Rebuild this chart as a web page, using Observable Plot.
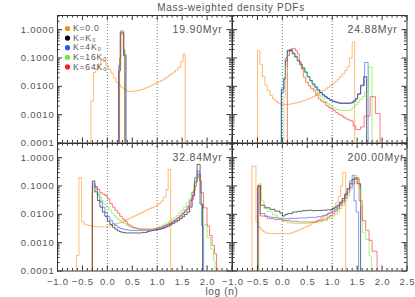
<!DOCTYPE html>
<html><head><meta charset="utf-8">
<script src="https://cdn.jsdelivr.net/npm/d3@7"></script>
<script src="https://cdn.jsdelivr.net/npm/@observablehq/plot@0.6"></script>
<style>
html,body{margin:0;padding:0;background:#fff;}
#chart{position:relative;width:415px;height:297px;overflow:hidden;font-family:"Liberation Sans",Arial,sans-serif;}
#chart svg{position:absolute;overflow:visible;}
#chart svg text{letter-spacing:0.8px;font-family:"Liberation Sans","DejaVu Sans",sans-serif;}
.lbl{position:absolute;color:#555;font-size:10px;letter-spacing:0.7px;white-space:nowrap;transform:translate(-50%,-50%);}
</style></head><body><div id="chart"></div>
<script>
// ---- data: mass-weighted density PDFs, [log n bin left edge, PDF]; last entry = right edge of last bin ----
const seriesNames = ["K=0.0", "K=K\u2080", "K=4K\u2080", "K=16K\u2080", "K=64K\u2080"];
const seriesColors = ["#ff8c1a", "#000000", "#1e5aff", "#6cee2a", "#ff2020"];
const panelTimes = ["19.90Myr", "24.88Myr", "32.84Myr", "200.00Myr"];

// 19.90 Myr
const tl_k0 = [[-0.33,0.003],[-0.28,0.031],[-0.23,0.04],[-0.18,0.062],[-0.13,0.085],[-0.08,0.075],[-0.03,0.055],[0.02,0.04],[0.07,0.029],[0.12,0.02],[0.17,0.014],[0.22,0.011],[0.27,0.0092],[0.32,0.008],[0.37,0.007],[0.42,0.0066],[0.47,0.0066],[0.52,0.0068],[0.57,0.0071],[0.62,0.0073],[0.67,0.0077],[0.72,0.0083],[0.77,0.009],[0.82,0.0098],[0.87,0.0108],[0.92,0.012],[0.97,0.0132],[1.02,0.0145],[1.07,0.016],[1.12,0.018],[1.17,0.021],[1.22,0.024],[1.27,0.028],[1.32,0.032],[1.37,0.038],[1.42,0.047],[1.47,0.075],[1.52,0.14],[1.56,0]];
const tl_k1 = [[0.227,0.035],[0.26,0.78],[0.327,0.12],[0.36,0]];
const tl_k2 = [[0.227,0.055],[0.26,0.9],[0.327,0.13],[0.38,0]];
const tl_k3 = [[0.24,0.05],[0.273,0.85],[0.333,0.2],[0.36,0]];
const tl_k4 = [[0.245,0.1],[0.267,0.72],[0.32,0.2],[0.345,0]];

// 24.88 Myr
const tr_k0 = [[-0.5,0.18],[-0.45,0.06],[-0.4,0.022],[-0.35,0.011],[-0.3,0.0072],[-0.25,0.0048],[-0.2,0.0036],[-0.15,0.003],[-0.1,0.0026],[-0.05,0.0024],[0,0.0023],[0.15,0.0024],[0.2,0.0025],[0.25,0.0026],[0.3,0.0027],[0.35,0.0029],[0.4,0.0031],[0.45,0.0033],[0.5,0.0036],[0.55,0.0039],[0.6,0.0043],[0.65,0.0048],[0.7,0.0055],[0.75,0.0062],[0.8,0.007],[0.85,0.008],[0.9,0.0092],[0.95,0.011],[1.0,0.0125],[1.05,0.015],[1.1,0.018],[1.15,0.022],[1.2,0.028],[1.25,0.036],[1.3,0.05],[1.35,0.1],[1.4,0.36],[1.45,0]];
const tr_k1 = [[-0.02,0.008],[0.03,0.018],[0.06,0.08],[0.1,0.18],[0.15,0.19],[0.2,0.14],[0.25,0.11],[0.3,0.08],[0.35,0.06],[0.4,0.045],[0.45,0.032],[0.5,0.022],[0.55,0.016],[0.6,0.012],[0.65,0.0095],[0.7,0.0075],[0.75,0.006],[0.8,0.005],[0.85,0.0042],[0.9,0.0037],[0.95,0.0032],[1.0,0.003],[1.05,0.0028],[1.1,0.0026],[1.15,0.0025],[1.37,0.0026],[1.42,0.003],[1.47,0.0036],[1.51,0.0053],[1.57,0.0105],[1.63,0.022],[1.69,0]];
const tr_k2 = [[-0.02,0.006],[0.03,0.02],[0.06,0.1],[0.1,0.19],[0.15,0.2],[0.2,0.15],[0.25,0.11],[0.3,0.08],[0.35,0.058],[0.4,0.043],[0.45,0.031],[0.5,0.022],[0.55,0.016],[0.6,0.012],[0.65,0.0093],[0.7,0.0074],[0.75,0.006],[0.8,0.005],[0.85,0.0043],[0.9,0.0037],[0.95,0.0033],[1.0,0.003],[1.05,0.0028],[1.1,0.0027],[1.15,0.0026],[1.37,0.0027],[1.42,0.0031],[1.47,0.0038],[1.51,0.0055],[1.57,0.011],[1.65,0.07],[1.72,0]];
const tr_k3 = [[0.03,0.004],[0.06,0.05],[0.1,0.13],[0.15,0.17],[0.2,0.16],[0.25,0.12],[0.3,0.085],[0.35,0.06],[0.4,0.042],[0.45,0.03],[0.5,0.021],[0.55,0.015],[0.6,0.0105],[0.65,0.0078],[0.7,0.0058],[0.75,0.0045],[0.8,0.0036],[0.85,0.0029],[0.9,0.0024],[0.95,0.002],[1.0,0.0018],[1.05,0.0016],[1.1,0.0015],[1.15,0.0014],[1.35,0.0015],[1.4,0.0018],[1.45,0.0022],[1.5,0.0027],[1.55,0.0034],[1.6,0.0043],[1.65,0.0063],[1.73,0.047],[1.8,0]];
const tr_k4 = [[0.1,0.12],[0.14,0.18],[0.18,0.21],[0.22,0.22],[0.26,0.18],[0.3,0.14],[0.34,0.07],[0.38,0.041],[0.42,0.021],[0.47,0.014],[0.52,0.0105],[0.57,0.0085],[0.62,0.007],[0.67,0.005],[0.72,0.0036],[0.77,0.003],[0.82,0.0027],[0.87,0.0021],[0.92,0.0018],[0.97,0.0016],[1.02,0.0014],[1.07,0.0012],[1.12,0.001],[1.17,0.00092],[1.22,0.0008],[1.27,0.0007],[1.32,0.00065],[1.37,0.0006],[1.42,0.0004],[1.47,0.0003],[1.57,0.00037],[1.64,0.0009],[1.76,0.0043],[1.87,0.0011],[1.96,0]];

// 32.84 Myr
const bl_k0 = [[-0.62,0.00035],[-0.57,0.2],[-0.52,0.0055],[-0.47,0.0045],[-0.42,0.0042],[-0.37,0.004],[-0.32,0.0038],[-0.27,0.0037],[-0.22,0.0036],[-0.02,0.0037],[0.03,0.0039],[0.08,0.0041],[0.13,0.0044],[0.18,0.0047],[0.23,0.0051],[0.28,0.0055],[0.33,0.006],[0.38,0.0066],[0.43,0.0073],[0.48,0.008],[0.53,0.0088],[0.58,0.0097],[0.63,0.0107],[0.68,0.0118],[0.73,0.013],[0.78,0.0143],[0.83,0.0157],[0.88,0.0172],[0.93,0.019],[0.98,0.021],[1.03,0.0245],[1.08,0.03],[1.13,0.04],[1.18,0.075],[1.22,0.39],[1.27,0]];
const bl_k1 = [[-0.3,0.15],[-0.25,0.062],[-0.2,0.031],[-0.15,0.018],[-0.1,0.012],[-0.05,0.0085],[0,0.0058],[0.05,0.0044],[0.1,0.0035],[0.15,0.003],[0.2,0.0026],[0.25,0.0024],[0.3,0.0023],[0.35,0.0022],[0.7,0.0023],[0.8,0.0025],[0.85,0.0026],[0.9,0.0027],[0.95,0.0028],[1.0,0.0029],[1.05,0.003],[1.1,0.0032],[1.15,0.0035],[1.2,0.0038],[1.25,0.0043],[1.3,0.0048],[1.35,0.0054],[1.4,0.006],[1.45,0.007],[1.5,0.0082],[1.55,0.0098],[1.6,0.012],[1.65,0.018],[1.7,0.045],[1.75,0.14],[1.8,0.58],[1.86,0.023],[1.91,0]];
const bl_k2 = [[-0.3,0.12],[-0.25,0.09],[-0.2,0.05],[-0.15,0.028],[-0.1,0.018],[-0.05,0.012],[0,0.0085],[0.05,0.0062],[0.1,0.0048],[0.15,0.004],[0.2,0.0035],[0.25,0.0032],[0.3,0.003],[0.35,0.0029],[0.4,0.0028],[0.45,0.0027],[0.95,0.0029],[1.0,0.003],[1.05,0.0032],[1.1,0.0035],[1.15,0.0039],[1.2,0.0043],[1.25,0.0048],[1.3,0.0055],[1.35,0.0064],[1.4,0.0075],[1.45,0.009],[1.5,0.011],[1.55,0.014],[1.6,0.019],[1.65,0.03],[1.7,0.06],[1.75,0.2],[1.8,0.34],[1.85,0.15],[1.89,0.004],[1.93,0]];
const bl_k3 = [[-0.31,0.06],[-0.27,0.09],[-0.22,0.06],[-0.17,0.04],[-0.12,0.03],[-0.07,0.023],[-0.02,0.018],[0.03,0.014],[0.08,0.011],[0.13,0.0088],[0.18,0.0072],[0.23,0.006],[0.28,0.0052],[0.33,0.0047],[0.38,0.0041],[0.43,0.0037],[0.48,0.0034],[0.53,0.0032],[0.58,0.0031],[0.63,0.003],[0.93,0.0032],[0.98,0.0034],[1.03,0.0037],[1.08,0.004],[1.13,0.0045],[1.18,0.005],[1.23,0.0058],[1.28,0.0066],[1.33,0.0077],[1.38,0.009],[1.43,0.011],[1.48,0.014],[1.53,0.018],[1.58,0.025],[1.63,0.035],[1.68,0.06],[1.73,0.12],[1.78,0.22],[1.82,0.18],[1.87,0.023],[1.93,0.0044],[2.0,0.0015],[2.07,0.0006],[2.13,0.00023],[2.16,0]];
const bl_k4 = [[-0.3,0.1],[-0.25,0.095],[-0.2,0.075],[-0.15,0.058],[-0.1,0.052],[-0.05,0.046],[0,0.035],[0.05,0.024],[0.1,0.018],[0.15,0.014],[0.2,0.011],[0.25,0.0085],[0.3,0.0068],[0.35,0.0055],[0.4,0.0045],[0.45,0.0039],[0.5,0.0035],[0.55,0.0033],[0.6,0.0031],[0.65,0.003],[0.93,0.0031],[0.98,0.0032],[1.03,0.0034],[1.08,0.0036],[1.13,0.0039],[1.18,0.0043],[1.23,0.0048],[1.28,0.0054],[1.33,0.006],[1.38,0.007],[1.43,0.008],[1.48,0.0095],[1.53,0.012],[1.58,0.015],[1.63,0.021],[1.68,0.034],[1.73,0.07],[1.76,0.1],[1.79,0.2],[1.82,0.26],[1.87,0.058],[1.93,0.017],[2.0,0.0039],[2.05,0.0018],[2.1,0.0008],[2.15,0.0004],[2.19,0]];

// 200.00 Myr
const br_k0 = [[-0.61,0.5],[-0.53,0.0055],[-0.48,0.0035],[-0.43,0.0028],[-0.38,0.0024],[-0.33,0.0022],[-0.28,0.0021],[0.17,0.0022],[0.22,0.0024],[0.27,0.0026],[0.32,0.0028],[0.37,0.0031],[0.42,0.0034],[0.47,0.0037],[0.52,0.0041],[0.57,0.0046],[0.62,0.0052],[0.67,0.0058],[0.72,0.0066],[0.77,0.0075],[0.82,0.0085],[0.87,0.0098],[0.92,0.0115],[0.97,0.014],[1.02,0.018],[1.07,0.025],[1.12,0.042],[1.17,0.1],[1.21,0.3],[1.27,0]];
const br_k1 = [[-0.49,0.105],[-0.44,0.021],[-0.35,0.017],[-0.25,0.015],[-0.15,0.013],[-0.05,0.011],[0,0.0087],[0.05,0.0098],[0.1,0.0106],[0.2,0.012],[0.3,0.0128],[0.4,0.0135],[0.5,0.0139],[0.6,0.0135],[0.7,0.0137],[0.8,0.014],[0.9,0.0145],[1.0,0.016],[1.05,0.018],[1.1,0.021],[1.15,0.027],[1.2,0.036],[1.25,0.052],[1.3,0.08],[1.35,0.12],[1.4,0.17],[1.45,0.18],[1.5,0.12],[1.57,0]];
const br_k2 = [[-0.5,0.09],[-0.45,0.0106],[-0.35,0.0085],[-0.25,0.0078],[-0.1,0.0072],[0,0.007],[0.15,0.0072],[0.3,0.0074],[0.5,0.0078],[0.7,0.0083],[0.8,0.0092],[0.9,0.0106],[0.95,0.0115],[1.0,0.0128],[1.05,0.015],[1.1,0.018],[1.15,0.024],[1.2,0.031],[1.25,0.048],[1.3,0.08],[1.35,0.15],[1.4,0.24],[1.44,0.03],[1.48,0.012],[1.53,0]];
const br_k3 = [[-0.47,0.12],[-0.42,0.03],[-0.37,0.016],[-0.3,0.0125],[-0.2,0.0095],[-0.1,0.0075],[0,0.0057],[0.1,0.005],[0.2,0.0048],[0.3,0.0047],[0.4,0.0048],[0.5,0.0049],[0.6,0.0052],[0.7,0.0054],[0.8,0.006],[0.9,0.007],[0.95,0.0078],[1.0,0.0087],[1.05,0.01],[1.1,0.012],[1.15,0.016],[1.2,0.021],[1.25,0.03],[1.3,0.047],[1.35,0.075],[1.4,0.12],[1.45,0.24],[1.5,0.2],[1.54,0.08],[1.57,0.02],[1.61,0.0023],[1.67,0.0013],[1.74,0.00034],[1.79,0]];
const br_k4 = [[-0.49,0.1],[-0.44,0.0087],[-0.3,0.007],[-0.15,0.0065],[0,0.0061],[0.15,0.0057],[0.3,0.0054],[0.5,0.0054],[0.7,0.006],[0.8,0.0068],[0.9,0.008],[0.95,0.009],[1.0,0.0106],[1.05,0.013],[1.1,0.016],[1.15,0.021],[1.2,0.027],[1.25,0.038],[1.3,0.061],[1.35,0.09],[1.4,0.12],[1.45,0.2],[1.5,0.18],[1.54,0.03],[1.6,0.006],[1.67,0.0027],[1.74,0.0012],[1.8,0.0005],[1.9,0]];

// axis ticks and labels
const xMajorTicks = [-1, -0.5, 0, 0.5, 1, 1.5, 2, 2.5];
const yMajorTicks = [1e-4, 1e-3, 1e-2, 1e-1, 1];
const yLabels = [1, 0.1, 0.01, 0.001, 0.0001];
const xLabelsLeft = [-1, -0.5, 0, 0.5, 1, 1.5, 2];
const xLabelsRight = [-1, -0.5, 0, 0.5, 1, 1.5, 2, 2.5];
const dottedAt = [0, 1];

// ---- layout ----
const PX0 = 57, PY0 = 15, PW = 174.5, PH = 127.5;
const FLOOR = 1e-6;
const xMinorTicks = d3.range(-10, 26).map(i => i / 10).filter(v => Math.abs(v * 2 - Math.round(v * 2)) > 1e-6);
const yMinorTicks = [];
for (let e = -4; e <= 0; e++) for (let m = 2; m <= 9; m++) { const v = m * Math.pow(10, e); if (v < Math.pow(10, 0.5)) yMinorTicks.push(v); }

const panels = [
  {series: [tl_k0, tl_k1, tl_k2, tl_k3, tl_k4], r: 0, c: 0},
  {series: [tr_k0, tr_k1, tr_k2, tr_k3, tr_k4], r: 0, c: 1},
  {series: [bl_k0, bl_k1, bl_k2, bl_k3, bl_k4], r: 1, c: 0},
  {series: [br_k0, br_k1, br_k2, br_k3, br_k4], r: 1, c: 1}
];

function stepRows(pts) {
  const out = [{x: pts[0][0], y: FLOOR}];
  for (const [x, v] of pts) out.push({x, y: v > 0 ? v : FLOOR});
  return out;
}

const chart = document.getElementById("chart");
const mL = 52, mR = 6, mT = 4, mB = 28;
const axisColor = "#333", textColor = "#555";

panels.forEach((p, i) => {
  const marks = [];
  marks.push(Plot.ruleX(dottedAt, {x: d => d, stroke: "#777", strokeWidth: 1, strokeDasharray: "1 2"}));
  p.series.forEach((s, k) => {
    marks.push(Plot.line(stepRows(s), {x: "x", y: "y", curve: "step-after", clip: true,
      stroke: seriesColors[k], strokeWidth: 1, strokeOpacity: 0.6}));
  });
  marks.push(Plot.frame({stroke: axisColor, strokeWidth: 1}));
  // inward ticks on all four sides
  const tk = {stroke: axisColor, strokeWidth: 1};
  marks.push(Plot.tickX(xMajorTicks, {x: d => d, insetTop: PH - 5, ...tk}));
  marks.push(Plot.tickX(xMajorTicks, {x: d => d, insetBottom: PH - 5, ...tk}));
  marks.push(Plot.tickX(xMinorTicks, {x: d => d, insetTop: PH - 2.5, ...tk}));
  marks.push(Plot.tickX(xMinorTicks, {x: d => d, insetBottom: PH - 2.5, ...tk}));
  marks.push(Plot.tickY(yMajorTicks, {y: d => d, insetRight: PW - 5, ...tk}));
  marks.push(Plot.tickY(yMajorTicks, {y: d => d, insetLeft: PW - 5, ...tk}));
  marks.push(Plot.tickY(yMinorTicks, {y: d => d, insetRight: PW - 2.5, ...tk}));
  marks.push(Plot.tickY(yMinorTicks, {y: d => d, insetLeft: PW - 2.5, ...tk}));
  // panel time label
  marks.push(Plot.text([panelTimes[i]], {text: d => d, frameAnchor: "top-left", textAnchor: "start", lineAnchor: "middle",
    dx: 115, dy: 14.5, fontSize: 10.5, fill: textColor}));
  // y tick labels on the left column
  if (p.c === 0) {
    marks.push(Plot.text(yLabels, {y: d => d, text: d => d.toFixed(4), frameAnchor: "left", textAnchor: "end",
      lineAnchor: "middle", dx: -3, fontSize: 9.5, fill: textColor}));
  }
  // x tick labels on the bottom row
  if (p.r === 1) {
    const xl = p.c === 0 ? xLabelsLeft : xLabelsRight;
    marks.push(Plot.text(xl, {x: d => d, text: d => d.toFixed(1).replace("-", "\u2212"), frameAnchor: "bottom",
      lineAnchor: "middle", dy: 11, dx: 0.4, fontSize: 9.5, fill: textColor}));
  }
  // legend in the first panel
  if (i === 0) {
    seriesNames.forEach((name, k) => {
      marks.push(Plot.dot([name], {frameAnchor: "top-left", dx: 10, dy: 13 + 9.6 * k, r: 2.6, fill: seriesColors[k], stroke: "none"}));
      marks.push(Plot.text([name], {text: d => d, frameAnchor: "top-left", textAnchor: "start", lineAnchor: "middle",
        dx: 15.5, dy: 13 + 9.6 * k, fontSize: 8.6, fill: textColor}));
    });
  }
  const svg = Plot.plot({
    width: PW + mL + mR, height: PH + mT + mB,
    marginLeft: mL, marginRight: mR, marginTop: mT, marginBottom: mB,
    x: {domain: [-1, 2.5], axis: null},
    y: {type: "log", domain: [1e-4, Math.pow(10, 0.5)], axis: null},
    style: {overflow: "visible", background: "none"},
    marks
  });
  svg.style.left = (PX0 + p.c * PW - mL) + "px";
  svg.style.top = (PY0 + p.r * PH - mT) + "px";
  chart.appendChild(svg);
});

// title and x-axis title
const title = document.createElement("div");
title.className = "lbl"; title.textContent = "Mass-weighted density PDFs";
title.style.left = "231px"; title.style.top = "6.5px";
chart.appendChild(title);
const xt = document.createElement("div");
xt.className = "lbl"; xt.textContent = "log (n)";
xt.style.left = "222px"; xt.style.top = "291px";
chart.appendChild(xt);
</script></body></html>
